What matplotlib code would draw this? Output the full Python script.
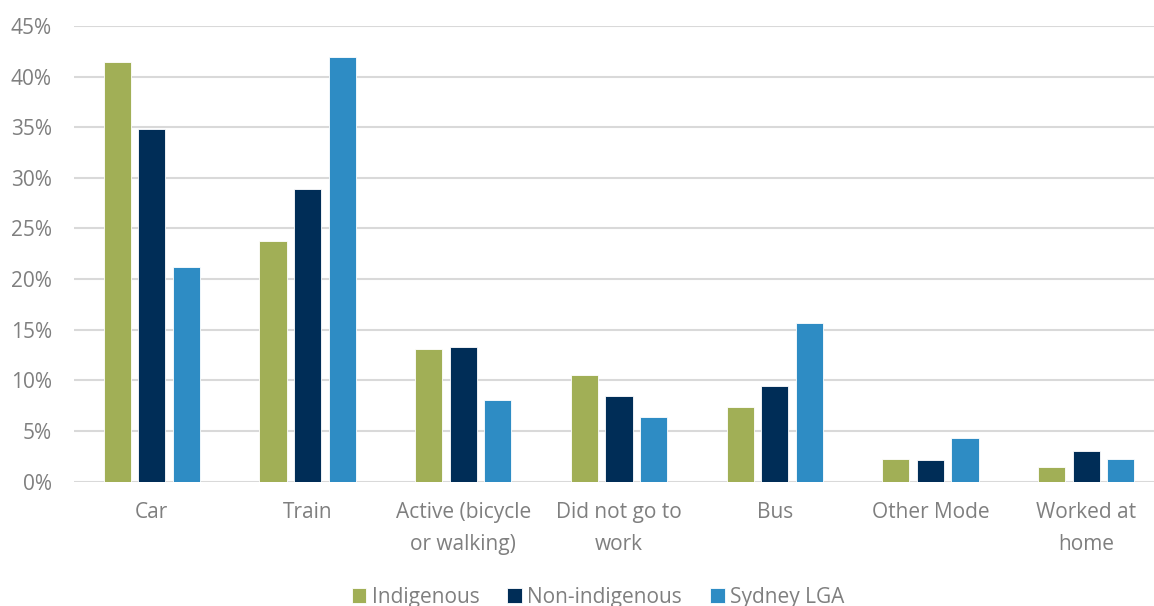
import matplotlib
matplotlib.use("Agg")
import matplotlib.pyplot as plt
import numpy as np
from matplotlib.ticker import PercentFormatter

categories = ["Car", "Train", "Active (bicycle\nor walking)", "Did not go to\nwork", "Bus", "Other Mode", "Worked at\nhome"]
indigenous = [41.4, 23.8, 13.1, 10.5, 7.4, 2.2, 1.4]
non_indigenous = [34.8, 28.9, 13.3, 8.4, 9.4, 2.1, 3.0]
sydney_lga = [21.2, 41.9, 8.1, 6.4, 15.7, 4.3, 2.2]
series_names = ["Indigenous", "Non-indigenous", "Sydney LGA"]
y_ticks = [0, 5, 10, 15, 20, 25, 30, 35, 40, 45]

colors = ["#A1AF56", "#002D57", "#2E8CC4"]
text_color = "#7F7F7F"
grid_color = "#D9D9D9"

plt.rcParams["font.family"] = ["Open Sans", "DejaVu Sans"]

W, H = 1154, 606
fig = plt.figure(figsize=(W / 100, H / 100), dpi=100)
ax = fig.add_axes([74 / W, (H - 481.5) / H, 1090 / W, (481.5 - 26) / H])

x = np.arange(len(categories))
bw = 0.175
step = 0.222
for i, (vals, name) in enumerate(zip([indigenous, non_indigenous, sydney_lga], series_names)):
    ax.bar(x + (i - 1) * step, vals, width=bw, color=colors[i], label=name,
           edgecolor="white", linewidth=0.6, zorder=3)

ax.set_xlim(-0.5, len(categories) - 0.5)
ax.set_ylim(0, 45)
ax.set_yticks(y_ticks)
ax.yaxis.set_major_formatter(PercentFormatter(decimals=0))
ax.grid(axis="y", color=grid_color, linewidth=1.5, zorder=0)
ax.set_axisbelow(True)
for s in ["top", "right", "left", "bottom"]:
    ax.spines[s].set_visible(False)
ax.tick_params(axis="both", length=0, colors=text_color, labelsize=15)
ax.tick_params(axis="y", pad=16)
ax.tick_params(axis="x", pad=15)
ax.set_xticks(x)
ax.set_xticklabels(categories, linespacing=1.65)

leg = fig.legend(loc="center", bbox_to_anchor=(598 / W, (H - 597) / H), ncol=3,
                 frameon=False, fontsize=15, handlelength=0.7, handleheight=0.7,
                 handletextpad=0.25, columnspacing=1.35)
for t in leg.get_texts():
    t.set_color(text_color)

fig.savefig("out.png", dpi=100)
